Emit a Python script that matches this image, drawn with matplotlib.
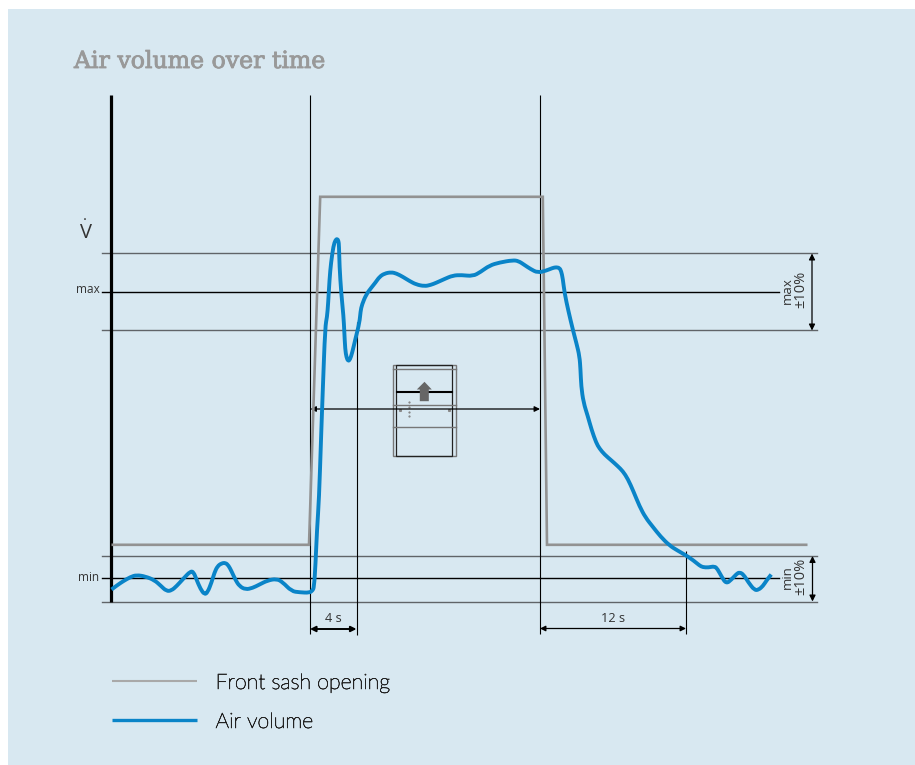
import matplotlib
matplotlib.use("Agg")
import matplotlib.pyplot as plt
import matplotlib.patheffects as pe
from matplotlib.patches import Rectangle, Polygon, PathPatch
from matplotlib.path import Path

air_x = [112, 118, 124, 131, 137, 146, 155, 161, 167, 172, 177, 184, 191, 194, 197, 201, 205, 208, 212, 215, 218,
         222, 226, 229, 232, 236, 240, 246, 253, 260, 268, 277, 283, 292, 300, 310, 313, 314.5, 316, 317.5, 319.5,
         321.5, 323.3, 325.7, 327.5, 328.7, 330, 331.5, 334, 336, 337.7, 339, 339.5, 340, 341.7, 344, 344.8, 345.7,
         347, 348.7, 350.5, 352.7, 356, 360, 361, 362.5, 366.7, 371.7, 376, 380, 385, 391.7, 397, 403.3, 410, 416.7,
         425, 431, 436.7, 445, 453.3, 462, 473.3, 481, 490, 500, 513.3, 519, 525, 531, 538.3, 547, 553, 556.7, 560,
         561.7, 563.3, 565, 569, 573.3, 577, 580, 581, 581.7, 584, 588.3, 592, 596.7, 600, 605, 612, 618.3, 623.3,
         628.3, 634, 640, 646, 653.3, 661, 670, 678, 686.7, 694, 700, 703.3, 709, 715, 718, 722, 726.7, 732, 737, 740,
         744, 749, 755, 759, 763.3, 767, 771.7]
air_y = [590, 585.5, 581.5, 577.5, 575.5, 577, 580.7, 586, 591.7, 591, 586.7, 579, 571.7, 572.5, 580, 589.5, 595,
         593, 583, 573, 566.7, 563.8, 563.3, 566, 571.7, 580.5, 586.7, 590, 588.5, 585, 581, 579.3, 582.5, 591.7,
         592.8, 593.3, 591, 588, 565, 530, 500, 440, 390, 326.7, 318, 303.3, 280, 263.3, 246, 240.5, 239.3, 241.5,
         246, 266.7, 293.3, 316.7, 332, 350, 358, 361.7, 360, 353.3, 339, 323, 312, 305, 295, 288.3, 283, 277.3,
         274, 272.7, 274, 277.3, 281.5, 285, 286.7, 285.5, 283.3, 279.5, 276, 275.5, 276.7, 272.5, 266, 263, 260.7,
         261.5, 265.5, 269.5, 273.3, 271, 268.5, 267.7, 268.5, 271.7, 279, 293.3, 312, 330, 344, 356.7, 370, 386.7,
         403, 416.7, 430, 443.3, 449, 455, 461, 466.7, 471.7, 479.3, 492, 506.7, 518, 527.3, 537, 546, 551, 556, 561,
         566, 567.7, 568, 566.7, 569.5, 577, 584.3, 580, 574.5, 572.7, 575, 583, 590.7, 590.3, 586.7, 581, 575]

sash_x = [112, 309.5, 320.7, 543.3, 547.5, 808]
sash_y = [545.3, 545.3, 197.3, 197.3, 545.3, 545.3]

band_y = [253.5, 331, 556.3, 602.5]
band_end = [817, 817, 817, 817]
level_y = [292.5, 579]
level_end = [779, 779]
level_labels = ["max", "min"]
level_label_x = [100, 100]
level_label_y = [290, 578]

guide_x = [310.5, 357.5, 540.5, 686.5]
guide_top = [96, 323, 96, 551.5]
guide_bottom = [634.5, 636, 634.5, 634.5]

span_x0 = [310.5, 540.5, 311]
span_x1 = [357, 686.5, 540.5]
span_y = [629.5, 629, 409.5]
span_labels = ["4 s", "12 s", ""]
tolerance_x = [812.5, 813]
tolerance_y0 = [254, 556.5]
tolerance_y1 = [331, 602]

legend_labels = ["Front sash opening", "Air volume"]
legend_y = [681.5, 720.5]

bg = "#d8e8f1"
blue = "#0a84c8"
grey = "#929292"
band = "#606468"
text_col = "#333333"


def smooth_path(xs, ys):
    # quadratic segments with the read points as control points
    pts = list(zip(xs, ys))
    verts = [pts[0]]
    codes = [Path.MOVETO]
    for a, b in zip(pts[1:-1], pts[2:]):
        verts += [a, ((a[0] + b[0]) / 2, (a[1] + b[1]) / 2)]
        codes += [Path.CURVE3, Path.CURVE3]
    verts.append(pts[-1])
    codes.append(Path.LINETO)
    return Path(verts, codes)


fig = plt.figure(figsize=(9.15, 7.65), dpi=100, facecolor="white")
ax = fig.add_axes([0, 0, 1, 1])
ax.set_xlim(0.5, 915.5)
ax.set_ylim(765.5, 0.5)
ax.axis("off")
ax.add_patch(Rectangle((8.5, 9.5), 910, 760, fc=bg, ec="none", zorder=0))

ax.text(74.5, 68.5, "Air volume over time", family="DejaVu Serif", fontsize=17, color="#999999",
        path_effects=[pe.withStroke(linewidth=0.6, foreground="#999999")])

# horizontal bands and levels
for y, x1 in zip(band_y, band_end):
    ax.plot([102, x1], [y, y], color=band, lw=1.0, zorder=2)
for y, x1 in zip(level_y, level_end):
    ax.plot([102, x1], [y, y], color="black", lw=1.0, zorder=2)
for s, x, y in zip(level_labels, level_label_x, level_label_y):
    ax.text(x, y, s, ha="right", va="center", fontsize=8.5, color=text_col, family="Open Sans")

# axis and guides
ax.plot([111.5, 111.5], [96, 602.5], color="black", lw=2.3, solid_capstyle="butt", zorder=3)
for x, y0, y1 in zip(guide_x, guide_top, guide_bottom):
    ax.plot([x, x], [y0, y1], color="black", lw=0.8, solid_capstyle="butt", zorder=3)

ax.text(86, 234, "V", ha="center", va="center", fontsize=14.5, color=text_col, family="Open Sans")
ax.text(85.5, 220.5, ".", ha="center", va="baseline", fontsize=11, color=text_col, family="Open Sans")

# time spans
for x0, x1, y, s, w in zip(span_x0, span_x1, span_y, span_labels, [1.4, 0.9, 0.9]):
    ax.annotate("", xy=(x1, y), xytext=(x0, y), zorder=4,
                arrowprops=dict(arrowstyle="<|-|>", color="black", lw=w, mutation_scale=8, shrinkA=0, shrinkB=0))
    if s:
        ax.text((x0 + x1) / 2, 619, s, ha="center", va="center", fontsize=9.2, color=text_col, family="Open Sans")

# tolerance arrows
for x, y0, y1 in zip(tolerance_x, tolerance_y0, tolerance_y1):
    ax.annotate("", xy=(x, y1), xytext=(x, y0), zorder=4,
                arrowprops=dict(arrowstyle="<|-|>", color="black", lw=0.9, mutation_scale=9, shrinkA=0, shrinkB=0))
ax.text(788, 291, "max", rotation=90, ha="center", va="center", fontsize=9.5, color=text_col, family="Open Sans")
ax.text(801.5, 290, "±10%", rotation=90, ha="center", va="center", fontsize=10.5, color=text_col, family="Open Sans")
ax.text(788, 578, "min", rotation=90, ha="center", va="center", fontsize=9.5, color=text_col, family="Open Sans")
ax.text(801.5, 577, "±10%", rotation=90, ha="center", va="center", fontsize=10.5, color=text_col, family="Open Sans")

# sash icon
ax.add_patch(Rectangle((393.5, 365.7), 63, 91, fc="none", ec="#777777", lw=1.0, zorder=3))
ax.add_patch(Rectangle((396.7, 365.7), 55.6, 91, fc="none", ec="#222222", lw=0.9, zorder=3))
for y in [370, 406, 427.5]:
    ax.plot([393.5, 456.5], [y, y], color="#777777", lw=1.0, zorder=3)
ax.plot([397, 452.3], [392.7, 392.7], color="black", lw=1.5, zorder=3)
ax.add_patch(Polygon([(425, 382.3), (432.3, 390), (429.3, 390), (429.3, 401.7), (420.3, 401.7), (420.3, 390),
                      (417.3, 390)], closed=True, fc="#666666", ec="none", zorder=4))
ax.plot([409.3] * 4, [402.7, 407.3, 412.3, 416.7], ls="none", marker="s", ms=0.6, color="#888888", zorder=3)
ax.plot([400.7, 449], [411, 411], ls="none", marker="s", ms=1.2, color="#888888", zorder=3)

# curves
ax.plot(sash_x, sash_y, color=grey, lw=1.9, solid_joinstyle="miter", solid_capstyle="butt", zorder=5)
ax.add_patch(PathPatch(smooth_path(air_x, air_y), fc="none", ec=blue, lw=2.8, joinstyle="round", zorder=6))

# legend
ax.plot([112.5, 197], [legend_y[0]] * 2, color="#a9a9a9", lw=1.5, solid_capstyle="butt")
ax.plot([112.5, 197], [legend_y[1]] * 2, color=blue, lw=2.4, solid_capstyle="butt")
for s, y in zip(legend_labels, legend_y):
    ax.text(216, y + 2, s, va="center", fontsize=15.4, color="#222222", family="Lato", weight="light",
            path_effects=[pe.withStroke(linewidth=0.45, foreground="#222222")])

fig.savefig("out.png", dpi=100, facecolor=fig.get_facecolor())
